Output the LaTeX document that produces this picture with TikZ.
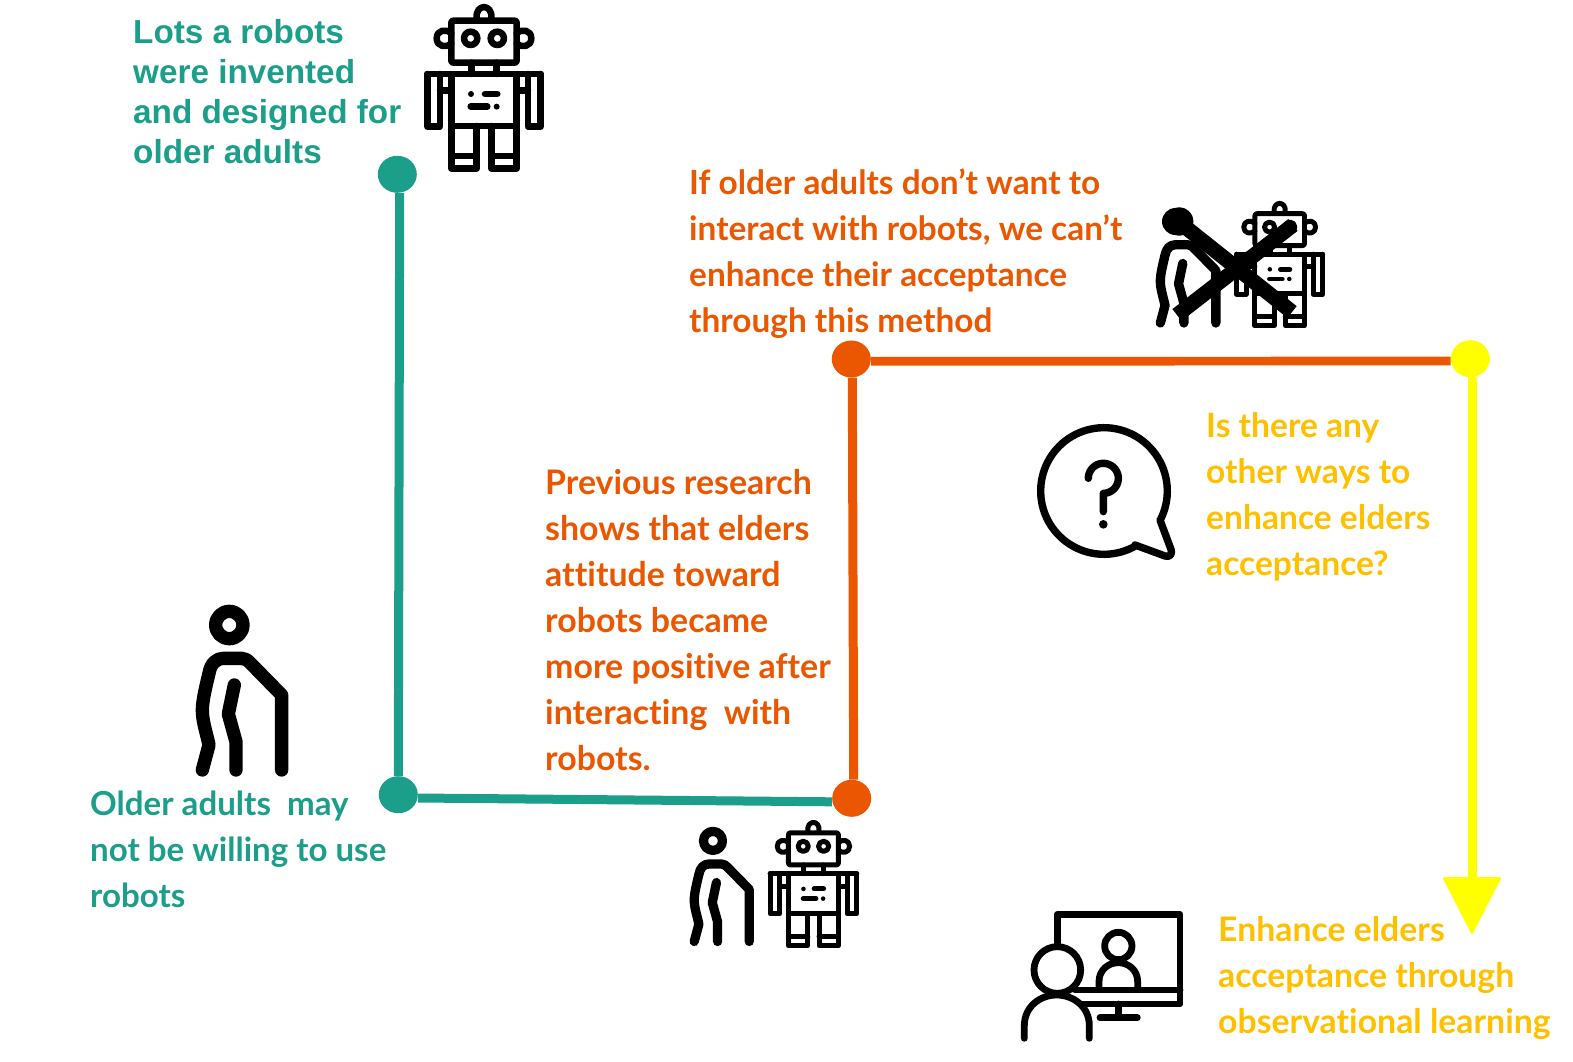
\documentclass[tikz,border=0pt]{standalone}
\usepackage{fontspec}
\setmainfont[Ligatures=NoCommon]{Lato}
\newfontfamily\arialfont{Liberation Sans}
\usetikzlibrary{arrows.meta,shapes.geometric}
\definecolor{teal1}{HTML}{1B9E8A}
\definecolor{orange1}{HTML}{EB5600}
\definecolor{yellow1}{HTML}{FFFF00}
\definecolor{gold1}{HTML}{FFC000}
\tikzset{
  ink/.style={draw=black,line cap=round,line join=round},
  dotnode/.style={ellipse,minimum width=39bp,minimum height=37bp,inner sep=0pt,fill=#1},
  label/.style 2 args={anchor=north west,inner sep=0pt,align=left,font=\fontsize{#2}{46.17}\selectfont\bfseries,text=#1},
  arial/.style={anchor=north west,inner sep=0pt,align=left,font=\arialfont\fontsize{33.4}{40.15}\selectfont\bfseries,text=#1},
  link/.style={line width=#1},
}
% #1,#2 origin, #3 scale
\newcommand{\robotIcon}[3]{%
\begin{scope}[shift={(#1,#2)},x=#3bp,y=-#3bp,ink,line width=#3*19.5bp]
  \draw (200,55) .. controls (195,10) and (249,10) .. (244,55);
  \draw[rounded corners=2] (124,62) rectangle (320,188);
  \draw (124,100) .. controls (108,85) and (80,90) .. (80,115) .. controls (80,140) and (108,145) .. (124,130);
  \draw (320,100) .. controls (336,85) and (364,90) .. (364,115) .. controls (364,140) and (336,145) .. (320,130);
  \draw (182,115) circle[radius=20];
  \draw (262,115) circle[radius=20];
  \draw (185,188) -- (185,222);
  \draw (260,188) -- (260,222);
  \draw (52,222) -- (392,222);
  \draw (124,222) rectangle (320,378);
  \draw (52,222) -- (52,380) -- (90,380) -- (90,222);
  \draw (392,222) -- (392,380) -- (354,380) -- (354,222);
  \draw (90,272) -- (124,272);
  \draw (320,272) -- (354,272);
  \fill (183,282) circle[radius=9];
  \fill (260,320) circle[radius=9];
  \draw (225,282) -- (262,282);
  \draw (182,320) -- (232,320);
  \draw (124,378) -- (124,505) -- (200,505) -- (200,378);
  \draw (244,378) -- (244,505) -- (320,505) -- (320,378);
  \draw (124,468) -- (200,468);
  \draw (244,468) -- (320,468);
\end{scope}}
\newcommand{\elderIcon}[3]{%
\begin{scope}[shift={(#1,#2)},x=#3bp,y=-#3bp,ink,line width=#3*40bp]
  \draw (178,105) circle[radius=41];
  \draw (97,540) -- (117,465) .. controls (110,430) and (97,395) .. (97,360)
     .. controls (97,330) and (110,280) .. (117,250)
     .. controls (122,220) and (140,205) .. (160,205) -- (215,205)
     .. controls (225,205) and (232,210) .. (240,218) -- (335,315) -- (335,540);
  \draw (193,285) -- (175,372) -- (198,455) -- (198,540);
\end{scope}}
\begin{document}
\begin{tikzpicture}[x=1bp,y=-1bp]
\useasboundingbox (0,0) rectangle (1573,1061);
% dots
\node[dotnode=teal1] (gtop) at (397.3,174.3) {};
\node[dotnode=teal1] (gbot) at (398.3,794.7) {};
\node[dotnode=orange1] (obot) at (851.7,798.3) {};
\node[dotnode=orange1] (otop) at (851.3,359) {};
\node[dotnode=yellow1] (ytop) at (1470.3,358.7) {};
\coordinate (ytip) at (1472,934);
% connectors
\draw[teal1,link=9bp] ([xshift=2.4bp]gtop.south) -- (gbot.north);
\draw[teal1,link=9bp] ([yshift=-3.3bp]gbot.east) -- ([yshift=-3.5bp]obot.west);
\draw[orange1,link=9bp] ([xshift=2bp]obot.north) -- ([xshift=1bp]otop.south);
\draw[orange1,link=8.7bp] ([yshift=-2.3bp]otop.east) -- ([yshift=-2.3bp]ytop.west);
\draw[yellow1,link=9bp,-{Triangle[length=58bp,width=59bp,round,line width=2bp]}] ([xshift=1.7bp]ytop.south) -- (ytip);
% texts
\node[arial=teal1] (t1) at (133,19) {Lots a robots\\were invented\\and designed for\\older adults};
\node[label={teal1}{33.2}] (t2) at (90,791) {Older adults\ \ may\\not be willing to use\\robots};
\node[label={orange1}{34}] (t3) at (545,469) {Previous research\\shows that elders\\attitude toward\\robots became\\more positive after\\interacting\ \ with\\robots.};
\node[label={orange1}{33.5}] (t4) at (689,169) {If older adults don’t want to\\interact with robots, we can’t\\enhance their acceptance\\through this method};
\node[label={gold1}{33.7}] (t5) at (1206,412) {Is there any\\other ways to\\enhance elders\\acceptance?};
\node[label={gold1}{33.9}] (t6) at (1218,916) {Enhance elders\\acceptance through\\observational learning};
% icons
\robotIcon{410}{0}{0.3333}
\elderIcon{170}{590}{0.3333}
\elderIcon{671.8}{816.6}{0.2313}
\robotIcon{756.8}{817}{0.255}
\elderIcon{1137.7}{197}{0.2333}
\fill[black] (1175.5,221.5) circle[radius=13.5];
\robotIcon{1223.5}{198}{0.253}
\draw[line width=15bp,black] (1179,222) -- (1292,312);
\draw[line width=15bp,black] (1177,315) -- (1293,225);
% screen
\begin{scope}[shift={(1000,860)},x=0.3333bp,y=-0.3333bp,ink,line width=6.8bp]
  \draw (172,260) -- (172,163) -- (540,163) -- (540,432) -- (240,432);
  \draw (225,390) -- (540,390);
  \draw (355,432) -- (355,473);
  \draw (300,473) -- (412,473);
  \draw (172,330) circle[radius=70];
  \draw (73,535) -- (73,497) .. controls (73,440) and (120,405) .. (170,405) .. controls (220,405) and (268,440) .. (268,497) -- (268,535);
  \draw (355,258) circle[radius=41];
  \draw (297,385) -- (297,365) .. controls (297,330) and (325,308) .. (355,308) .. controls (385,308) and (413,330) .. (413,365) -- (413,385);
\end{scope}
% question bubble
\begin{scope}[shift={(1020,410)},x=0.3333bp,y=-0.3333bp,ink,line width=7.4bp]
  \draw plot[domain=27:-300,samples=90] ({252+190*cos(\x)},{243+190*sin(\x)})
    -- (345,405) -- (435,438) .. controls (450,443) and (458,432) .. (453,418) -- (420,330);
  \draw plot[domain=180:450,samples=50] ({250+45*cos(\x)},{205+45*sin(\x)}) -- (250,305);
  \fill (250,343) circle[radius=13];
\end{scope}
\end{tikzpicture}
\end{document}
